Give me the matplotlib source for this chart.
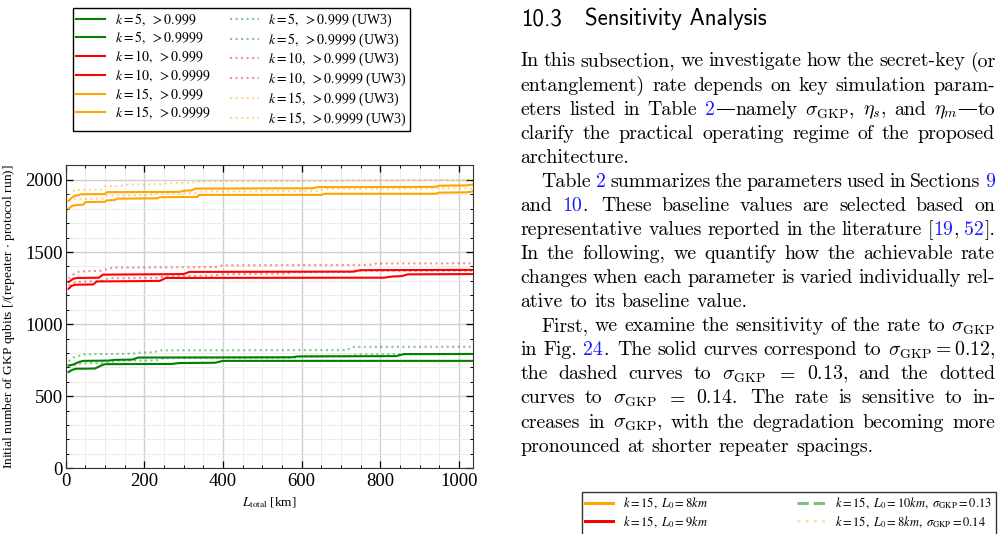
import re
import matplotlib
matplotlib.use('Agg')
import matplotlib.pyplot as plt
from matplotlib.lines import Line2D
from matplotlib.ticker import MultipleLocator

plt.rcParams['font.family'] = ['Liberation Serif', 'DejaVu Serif']
plt.rcParams['mathtext.fontset'] = 'stix'

W, H = 1006, 534

# ---- data (L_total in km, qubits per repeater per run) ----
k5_999_x = [8, 15, 25, 75, 90, 100, 270, 290, 380, 400, 1035]
k5_999_y = [668, 680, 690, 692, 712, 722, 724, 730, 732, 745, 745]
k5_9999_x = [8, 20, 35, 45, 110, 125, 170, 185, 575, 590, 840, 860, 1035]
k5_9999_y = [713, 720, 738, 745, 747, 752, 754, 768, 770, 776, 778, 792, 793]
k10_999_x = [8, 15, 25, 70, 80, 180, 240, 255, 810, 830, 855, 870, 1035]
k10_999_y = [1245, 1265, 1273, 1275, 1296, 1298, 1300, 1320, 1322, 1330, 1333, 1345, 1347]
k10_9999_x = [8, 20, 30, 85, 95, 300, 315, 730, 750, 1035]
k10_9999_y = [1292, 1315, 1320, 1322, 1343, 1347, 1362, 1364, 1374, 1376]
k15_999_x = [8, 15, 25, 45, 50, 100, 105, 125, 130, 232, 240, 335, 340, 650, 660, 940, 950, 1020, 1035]
k15_999_y = [1800, 1818, 1825, 1828, 1846, 1848, 1858, 1860, 1870, 1872, 1880, 1882, 1896, 1896, 1904, 1904, 1912, 1914, 1920]
k15_9999_x = [8, 15, 25, 40, 100, 105, 290, 300, 320, 330, 630, 640, 940, 950, 1020, 1035]
k15_9999_y = [1855, 1875, 1890, 1900, 1902, 1915, 1917, 1925, 1927, 1940, 1942, 1950, 1952, 1960, 1962, 1968]

# UW3 variants
k5_999_uw3_x = [8, 20, 40, 110, 130, 230, 250, 580, 600, 720, 740, 1035]
k5_999_uw3_y = [700, 715, 728, 732, 745, 748, 764, 766, 775, 778, 790, 792]
k5_9999_uw3_x = [8, 20, 45, 170, 190, 225, 240, 715, 730, 1035]
k5_9999_uw3_y = [742, 768, 790, 795, 802, 805, 818, 820, 842, 843]
k10_999_uw3_x = [8, 20, 40, 90, 110, 230, 250, 380, 400, 560, 580, 730, 750, 1035]
k10_999_uw3_y = [1265, 1285, 1295, 1298, 1318, 1320, 1330, 1338, 1346, 1350, 1360, 1362, 1370, 1370]
k10_9999_uw3_x = [8, 20, 35, 90, 120, 380, 400, 770, 790, 1035]
k10_9999_uw3_y = [1315, 1345, 1365, 1370, 1392, 1395, 1408, 1410, 1420, 1422]
k15_999_uw3_x = [8, 20, 40, 95, 105, 200, 230, 330, 345, 640, 660, 1035]
k15_999_uw3_y = [1855, 1865, 1868, 1870, 1890, 1893, 1905, 1910, 1920, 1922, 1938, 1942]
k15_9999_uw3_x = [8, 15, 25, 90, 100, 140, 150, 240, 260, 320, 340, 700, 720, 1000, 1035]
k15_9999_uw3_y = [1895, 1915, 1930, 1932, 1955, 1958, 1967, 1970, 1978, 1980, 1990, 1992, 1998, 2000, 2002]

series = [
    (k5_999_x, k5_999_y, 'green', r'$k=5,\ >0.999$'),
    (k5_9999_x, k5_9999_y, 'green', r'$k=5,\ >0.9999$'),
    (k10_999_x, k10_999_y, 'red', r'$k=10,\ >0.999$'),
    (k10_9999_x, k10_9999_y, 'red', r'$k=10,\ >0.9999$'),
    (k15_999_x, k15_999_y, 'orange', r'$k=15,\ >0.999$'),
    (k15_9999_x, k15_9999_y, 'orange', r'$k=15,\ >0.9999$'),
]
series_uw3 = [
    (k5_999_uw3_x, k5_999_uw3_y, 'green', r'$k=5,\ >0.999$ (UW3)'),
    (k5_9999_uw3_x, k5_9999_uw3_y, 'green', r'$k=5,\ >0.9999$ (UW3)'),
    (k10_999_uw3_x, k10_999_uw3_y, 'red', r'$k=10,\ >0.999$ (UW3)'),
    (k10_9999_uw3_x, k10_9999_uw3_y, 'red', r'$k=10,\ >0.9999$ (UW3)'),
    (k15_999_uw3_x, k15_999_uw3_y, 'orange', r'$k=15,\ >0.999$ (UW3)'),
    (k15_9999_uw3_x, k15_9999_uw3_y, 'orange', r'$k=15,\ >0.9999$ (UW3)'),
]

fig = plt.figure(figsize=(W / 100, H / 100), dpi=100)
ax = fig.add_axes([65.5 / W, 1 - 468.3 / H, (472.7 - 65.5) / W, (468.3 - 165.5) / H])

for x, y, c, lab in series:
    ax.plot(x, y, color=c, lw=1.5, label=lab)
for x, y, c, lab in series_uw3:
    ax.plot(x, y, color=c, lw=1.5, ls=':', alpha=0.45, label=lab)

ax.set_xlim(0, 1035)
ax.set_ylim(0, 2100)
ax.xaxis.set_major_locator(MultipleLocator(200))
ax.xaxis.set_minor_locator(MultipleLocator(50))
ax.yaxis.set_major_locator(MultipleLocator(500))
ax.yaxis.set_minor_locator(MultipleLocator(100))
ax.tick_params(which='both', direction='in', top=True, right=True, labelsize=13.5)
ax.tick_params(which='major', length=5, width=0.9)
ax.tick_params(which='minor', length=2.5, width=0.7)
ax.tick_params(axis='y', pad=2)
ax.grid(which='major', color='#cfcfcf', lw=1.0)
ax.grid(which='minor', color='#ececec', lw=0.7)
ax.set_axisbelow(True)
for s in ax.spines.values():
    s.set_color('#333333')
ax.set_xlabel(r'$L_{\mathrm{total}}$ [km]', fontsize=9.5)
ax.set_ylabel('Initial number of GKP qubits [/(repeater $\\cdot$ protocol run)]', fontsize=9.7)
ax.yaxis.set_label_coords(-0.118, 0.5)

h, l = ax.get_legend_handles_labels()
fig.legend(h, l, loc='upper left', bbox_to_anchor=(72.7 / W, 1 - 8.3 / H), ncol=2,
           fontsize=10, fancybox=False, edgecolor='black', framealpha=1,
           borderaxespad=0, handlelength=2.1, handletextpad=0.7,
           columnspacing=1.4, labelspacing=0.18, borderpad=0.22)

# ---- page text on the right ----
r = fig.canvas.get_renderer()
BODY = 14.3
X0, X1 = 520.7, 995.0
INDENT = 21.0


def add_word(x, ybase, segs, size):
    for s, c, fam in segs:
        t = fig.text(x / W, 1 - ybase / H, s, color=c, fontsize=size, family=fam,
                     math_fontfamily='cm', va='baseline', ha='left')
        x += t.get_window_extent(r).width


def split_word(tok):
    segs = []
    for part in re.split(r'(#[^#]*#|—)', tok):
        if not part:
            continue
        if part.startswith('#'):
            segs.append((part.strip('#'), '#1a1aff', ['cmr10']))
        elif part == '—':
            segs.append((part, 'black', ['DejaVu Serif']))
        else:
            segs.append((part, 'black', ['cmr10']))
    return segs


def word_width(segs, size):
    w = 0
    for s, c, fam in segs:
        t = fig.text(0, 0, s, fontsize=size, family=fam, math_fontfamily='cm')
        w += t.get_window_extent(r).width
        t.remove()
    return w


def text_line(line, ybase, justify, indent=0.0, size=BODY):
    toks = re.findall(r'(?:\$[^$]*\$|\S)+', line)
    words = [split_word(t) for t in toks]
    widths = [word_width(wd, size) for wd in words]
    natural = size * 100 / 72 * 0.333
    weights = [1.35 if toks[i].endswith('.') and not toks[i].endswith('Fig.') else 1.0
               for i in range(len(toks) - 1)]
    x = X0 + indent
    if justify and len(toks) > 1:
        gap = (X1 - x - sum(widths)) / sum(weights)
    else:
        gap = natural
    for i, wd in enumerate(words):
        add_word(x, ybase, wd, size)
        if i < len(weights):
            x += widths[i] + gap * weights[i]


fig.text(X0 / W, 1 - 25 / H, '10.3', family='cmss10', fontsize=16.5, va='baseline')
fig.text(585 / W, 1 - 25 / H, 'Sensitivity Analysis', family='cmss10', fontsize=16.5, va='baseline')

paragraphs = [
    ["In this subsection, we investigate how the secret-key (or",
     "entanglement) rate depends on key simulation param-",
     r"eters listed in Table #2#—namely $\sigma_{\mathrm{GKP}}$, $\eta_s$, and $\eta_m$—to",
     "clarify the practical operating regime of the proposed",
     "architecture."],
    ["Table #2# summarizes the parameters used in Sections #9#",
     "and #10#. These baseline values are selected based on",
     "representative values reported in the literature [#19#, #52#].",
     "In the following, we quantify how the achievable rate",
     "changes when each parameter is varied individually rel-",
     "ative to its baseline value."],
    [r"First, we examine the sensitivity of the rate to $\sigma_{\mathrm{GKP}}$",
     r"in Fig. #24#. The solid curves correspond to $\sigma_{\mathrm{GKP}}=0.12$,",
     r"the dashed curves to $\sigma_{\mathrm{GKP}}$ $=$ $0.13$, and the dotted",
     r"curves to $\sigma_{\mathrm{GKP}}$ $=$ $0.14$. The rate is sensitive to in-",
     r"creases in $\sigma_{\mathrm{GKP}}$, with the degradation becoming more",
     "pronounced at shorter repeater spacings."],
]
base = 66.5
step = 24.07
n = 0
for p, lines in enumerate(paragraphs):
    for j, line in enumerate(lines):
        last = j == len(lines) - 1
        text_line(line, base + n * step, not last, INDENT if (j == 0 and p > 0) else 0.0)
        n += 1

# ---- legend of the next figure, cut by the page edge ----
nxt = [
    Line2D([], [], color='orange', lw=2.2),
    Line2D([], [], color='red', lw=2.2),
    Line2D([], [], color='green', lw=2.2),
    Line2D([], [], color='orange', lw=2.2, ls='--', alpha=0.5),
    Line2D([], [], color='red', lw=2.2, ls='--', alpha=0.5),
    Line2D([], [], color='green', lw=2.2, ls='--', alpha=0.5),
    Line2D([], [], color='orange', lw=2.2, ls=':', alpha=0.3),
    Line2D([], [], color='red', lw=2.2, ls=':', alpha=0.3),
    Line2D([], [], color='green', lw=2.2, ls=':', alpha=0.3),
]
nxt_labels = [
    r'$k=15,\ L_0=8km$',
    r'$k=15,\ L_0=9km$',
    r'$k=15,\ L_0=10km$',
    r'$k=15,\ L_0=8km,\ \sigma_{\mathrm{GKP}}=0.13$',
    r'$k=15,\ L_0=9km,\ \sigma_{\mathrm{GKP}}=0.13$',
    r'$k=15,\ L_0=10km,\ \sigma_{\mathrm{GKP}}=0.13$',
    r'$k=15,\ L_0=8km,\ \sigma_{\mathrm{GKP}}=0.14$',
    r'$k=15,\ L_0=9km,\ \sigma_{\mathrm{GKP}}=0.14$',
    r'$k=15,\ L_0=10km,\ \sigma_{\mathrm{GKP}}=0.14$',
]
fig.legend(nxt, nxt_labels, loc='upper left', bbox_to_anchor=(581.7 / W, 1 - 492 / H), ncol=2,
           fontsize=9, fancybox=False, edgecolor='#333333', framealpha=1,
           borderaxespad=0, handlelength=2.2, handletextpad=0.8,
           columnspacing=1.9, labelspacing=0.2, borderpad=0.3)

fig.savefig('out.png', dpi=100)
